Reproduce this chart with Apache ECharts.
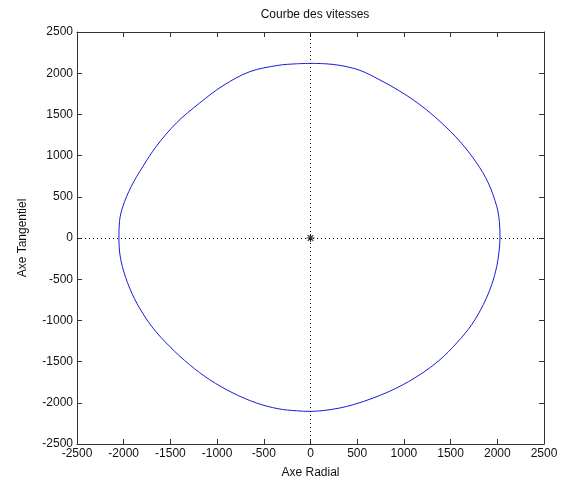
<!DOCTYPE html>
<html>
<head>
<meta charset="utf-8">
<script src="https://cdn.jsdelivr.net/npm/echarts@6/dist/echarts.min.js"></script>
<style>
html,body{margin:0;padding:0;background:#fff;}
#chart{width:563px;height:488px;}
</style>
</head>
<body>
<div id="chart"></div>
<script>
var titleText = 'Courbe des vitesses';
var xName = 'Axe Radial';
var yName = 'Axe Tangentiel';
var axisMin = -2500, axisMax = 2500, axisStep = 500;

// velocity curve (clockwise, starting at the top)
var xRadial = [0, 150, 314, 528, 743, 957, 1171, 1386, 1600, 1779, 1904, 1994, 2022, 2029,
  2018, 1994, 1940, 1850, 1726, 1565, 1386, 1171, 922, 671, 457, 314, 150, 0,
  -150, -347, -579, -830, -1079, -1294, -1508, -1687, -1830, -1937, -2015, -2044, -2051,
  -2045, -2009, -1919, -1794, -1651, -1436, -1187, -937, -651, -347, -150, 0];
var yTangential = [2119, 2115, 2095, 2035, 1918, 1782, 1618, 1415, 1172, 910, 667, 383, 200, 0,
  -170, -345, -567, -809, -1052, -1274, -1477, -1659, -1820, -1942, -2023, -2063, -2092, -2104,
  -2097, -2072, -2002, -1881, -1720, -1538, -1316, -1092, -850, -607, -345, -170, 0,
  200, 383, 626, 869, 1112, 1396, 1638, 1848, 2018, 2095, 2114, 2119];
var centerPoint = [[0, 0]];

var curve = xRadial.map(function (x, i) { return [x, yTangential[i]]; });

var font = 'Liberation Sans, Arial, sans-serif';
var axisCol = '#333';
function makeAxis(pos, labels, extra) {
  var a = {
    type: 'value', min: axisMin, max: axisMax, interval: axisStep, position: pos,
    axisLine: {show: true, onZero: false, lineStyle: {color: axisCol, width: 1}},
    axisTick: {show: true, inside: true, length: 5, lineStyle: {color: axisCol}},
    axisLabel: {show: labels, color: '#111', fontFamily: font, fontSize: 12, margin: 4,
      formatter: function (v) { return String(v); }},
    splitLine: {show: false}
  };
  for (var k in extra) a[k] = extra[k];
  return a;
}

var chart = echarts.init(document.getElementById('chart'), null, {renderer: 'canvas'});
chart.setOption({
  animation: false,
  backgroundColor: '#fff',
  title: {text: titleText, left: 310, top: 4, textAlign: 'center',
    textStyle: {fontFamily: font, fontSize: 12, fontWeight: 'normal', color: '#111'}},
  grid: {left: 77, top: 32, right: 19, bottom: 44, containLabel: false},
  xAxis: [
    makeAxis('bottom', true, {name: xName, nameLocation: 'middle', nameGap: 23,
      nameTextStyle: {fontFamily: font, fontSize: 12, color: '#111'}}),
    makeAxis('top', false, {})
  ],
  yAxis: [
    makeAxis('left', true, {name: yName, nameLocation: 'middle', nameGap: 48,
      nameTextStyle: {fontFamily: font, fontSize: 12, color: '#111'}}),
    makeAxis('right', false, {})
  ],
  series: [
    {
      type: 'line', data: curve, xAxisIndex: 0, yAxisIndex: 0,
      showSymbol: false, smooth: 0.35,
      lineStyle: {color: '#1a1adb', width: 1},
      markLine: {
        silent: true, symbol: 'none', label: {show: false},
        lineStyle: {color: '#000', type: [1, 3], width: 1},
        data: [{xAxis: 0}, {yAxis: 0}]
      }
    },
    {
      type: 'scatter', data: centerPoint, xAxisIndex: 0, yAxisIndex: 0,
      symbol: 'path://M5,0 L5,10 M0,5 L10,5 M1.5,1.5 L8.5,8.5 M8.5,1.5 L1.5,8.5',
      symbolSize: 8,
      itemStyle: {color: 'none', borderColor: '#000', borderWidth: 1.2}
    }
  ]
});
</script>
</body>
</html>
